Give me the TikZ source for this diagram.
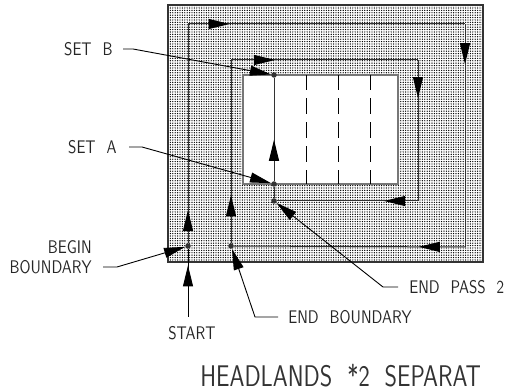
\documentclass[tikz,border=0pt]{standalone}
\usepackage{fontspec}
\setsansfont{Latin Modern Sans}[FakeStretch=0.82,WordSpace=2.2]
\newfontfamily\titlefont{Latin Modern Sans}[FakeStretch=0.8,WordSpace=2]
\usetikzlibrary{arrows.meta, patterns.meta, decorations.markings, positioning}
\definecolor{linegray}{HTML}{333333}
\definecolor{edgegray}{HTML}{777777}

\begin{document}
\begin{tikzpicture}[
    x=0.2mm, y=-0.2mm,
    every node/.style={inner sep=0pt},
    lbl/.style={font=\sffamily\fontsize{10.4}{12.5}\selectfont, text=black!85},
    titlelbl/.style={font=\titlefont\fontsize{17}{20}\selectfont, text=black!80},
    ground/.style={rectangle, draw=linegray, line width=0.3mm, minimum width=63mm, minimum height=51.4mm,
        pattern={Dots[radius=0.14mm, distance=0.48mm]}, pattern color=black},
    field/.style={rectangle, draw=edgegray, line width=0.3mm, fill=white, minimum width=31mm, minimum height=21.8mm},
    pass/.style={draw=linegray, line width=0.2mm},
    leader/.style={draw=black, line width=0.18mm},
    swath/.style={draw=black, line width=0.2mm, dash pattern=on 3.2mm off 1.6mm, dash phase=0.4mm},
    headtip/.style={-{Triangle[length=4.2mm, width=2mm, color=black]}},
    midtip/.style={postaction={decorate}, decoration={markings, mark=at position #1 with {\arrow{Triangle[length=4.2mm, width=2mm, color=black]}}}},
    point/.style={circle, fill=linegray, minimum size=1.1mm}
]
\useasboundingbox (0,0) rectangle (510,392);

% Ground and field
\node[ground] (outer) at (325.5,133.5) {};
\node[field] (inner) at (320.5,129.5) {};

% Points
\node[point] (setb) at (274,75) {};
\node[point] (seta) at (274,184) {};
\node[point] (endpass) at (274,201) {};
\node[point] (begin) at (188,246) {};
\node[point] (endb) at (231,246) {};

% Corners of the passes
\coordinate (o1) at (188,24);
\coordinate (o2) at (465,24);
\coordinate (o3) at (465,247);
\coordinate (i1) at (231,60);
\coordinate (i2) at (418,60);
\coordinate (i3) at (418,201);

% Swath lines
\foreach \x in {306, 338, 370} {
    \coordinate (b\x) at (\x,184);
    \coordinate (t\x) at (\x,75);
    \draw[swath] (b\x) -- (t\x);
}

% Passes
\draw[pass, midtip=0.15] (begin) -- (o1);
\draw[pass, midtip=0.15] (o1) -- (o2);
\draw[pass, midtip=0.18] (o2) -- (o3);
\draw[pass, midtip=0.20] (o3) -- (endb);
\draw[pass, midtip=0.26] (endb) -- (i1);
\draw[pass, midtip=0.235] (i1) -- (i2);
\draw[pass, midtip=0.27] (i2) -- (i3);
\draw[pass, midtip=0.24] (i3) -- (endpass);
\draw[pass] (endpass) -- (seta);
\draw[pass, midtip=0.40] (seta) -- (setb);

% Labels
\node[lbl, anchor=east] (lsetb) at (113,49) {SET B};
\node[lbl, anchor=east] (lseta) at (117,147) {SET A};
\node[lbl, anchor=east] (lbegin) at (92,247) {BEGIN};
\node[lbl, anchor=east] (lbound) at (92,267) {BOUNDARY};
\node[lbl, anchor=west] (lstart) at (168,333) {START};
\node[lbl, anchor=west] (lendb) at (288,317) {END BOUNDARY};
\node[lbl, anchor=west] (lendp) at (409,287) {END PASS 2};
\node[titlelbl, anchor=west] (ltitle) at (200,376) {HEADLANDS *2 SEPARAT};

% Leaders
\coordinate (kb) at (133,49);
\coordinate (ka) at (142,147);
\coordinate (kg) at (117,267);
\coordinate (ke) at (255,317);
\coordinate (kp) at (383,287);
\coordinate (s0) at (188,317);
\coordinate (sb) at (123,49);
\coordinate (sa) at (129,147);
\coordinate (sg) at (103,267);
\coordinate (se) at (278,317);
\coordinate (sp) at (398,287);

\draw[leader, headtip] (sb) -- (kb) -- (setb);
\draw[leader, headtip] (sa) -- (ka) -- (seta);
\draw[leader, headtip] (sg) -- (kg) -- (begin);
\draw[leader, headtip] (se) -- (ke) -- (endb);
\draw[leader, headtip] (sp) -- (kp) -- (endpass);
\draw[leader, midtip=0.76] (s0) -- (begin);

\end{tikzpicture}
\end{document}
